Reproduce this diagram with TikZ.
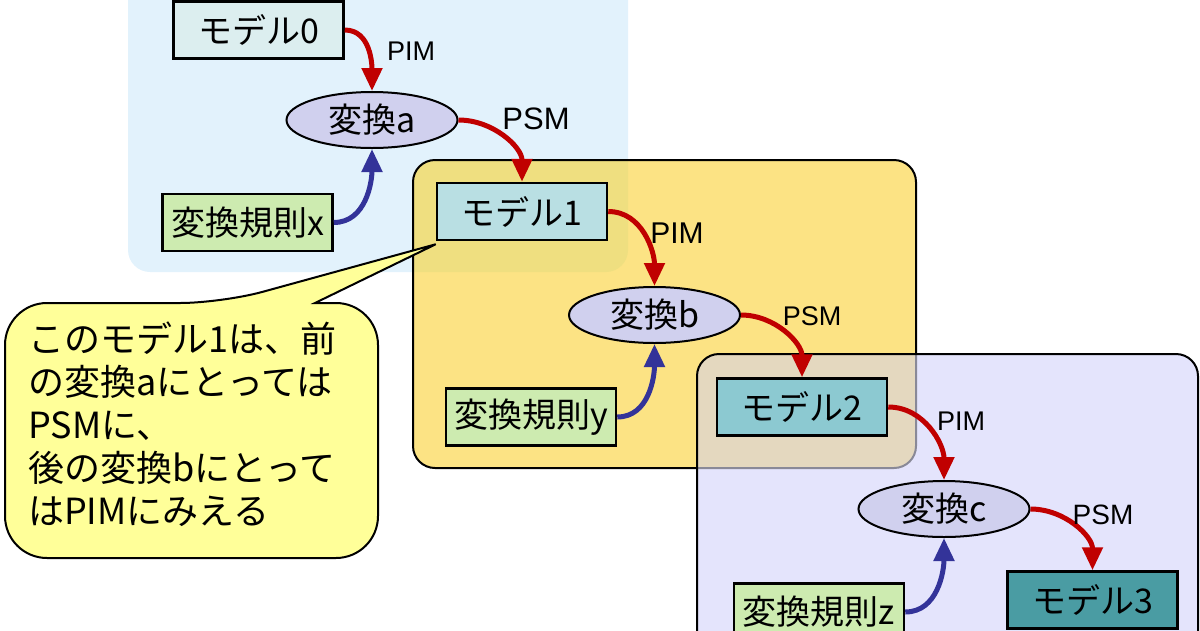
\documentclass[tikz,border=0pt]{standalone}
\usepackage{fontspec}
\setmainfont{Noto Sans CJK JP}
\newfontfamily\latinfont{Liberation Sans}
\usetikzlibrary{shapes.geometric,arrows.meta}

\definecolor{panelblue}{HTML}{E2F2FC}
\definecolor{panelyellow}{HTML}{FCE384}
\definecolor{panelpurple}{HTML}{E4E4FC}
\definecolor{overlapby}{HTML}{EFDF80}
\definecolor{overlapyp}{HTML}{E4D8BF}
\definecolor{modelfilla}{HTML}{DCEEEF}
\definecolor{modelfillb}{HTML}{B9DFE3}
\definecolor{modelfillc}{HTML}{8CC9D1}
\definecolor{modelfilld}{HTML}{4A9CA3}
\definecolor{rulefill}{HTML}{CDEBB0}
\definecolor{transfill}{HTML}{D0D0EE}
\definecolor{flowred}{HTML}{C00000}
\definecolor{ruleblue}{HTML}{333399}
\definecolor{notefill}{HTML}{FFFF99}

\tikzset{
  model/.style={draw=black, line width=2.5pt, minimum width=170pt, minimum height=57pt,
    inner sep=0pt, font=\fontsize{34}{38}\selectfont},
  rulebox/.style={model, fill=rulefill},
  trans/.style={ellipse, draw=black, line width=2pt, fill=transfill, minimum width=171pt,
    minimum height=56pt, inner sep=0pt, font=\fontsize{34}{38}\selectfont},
  flow/.style={draw=flowred, line width=5pt, -{Triangle[length=23pt,width=20pt]}},
  feed/.style={draw=ruleblue, line width=5pt, -{Triangle[length=23pt,width=20pt]}},
  lbl/.style={font=\latinfont\fontsize{27}{30}\selectfont, inner sep=0pt},
  panel/.style={rounded corners=22pt}
}

\begin{document}
\begin{tikzpicture}[x=1pt,y=-1pt]
        \useasboundingbox (0,0) rectangle (1200,630);
        \clip (0,0) rectangle (1200,630);

        %Shape: Panel a
        \fill [panelblue, panel] (128,-40) rectangle (628,272);
        %Shape: Panel b
        \fill [panelyellow, panel] (413,160) rectangle (916,468);
        \begin{scope}
          \clip [panel] (413,160) rectangle (916,468);
          \fill [overlapby, panel] (128,-40) rectangle (628,272);
        \end{scope}
        \draw [line width=2pt, panel] (413,160) rectangle (916,468);
        %Shape: Panel c
        \fill [panelpurple, panel] (697,354) rectangle (1198,700);
        \begin{scope}
          \clip [panel] (697,354) rectangle (1198,700);
          \fill [overlapyp, panel] (413,160) rectangle (916,468);
          \draw [line width=2pt, color=black!40!panelpurple, panel] (413,160) rectangle (916,468);
        \end{scope}
        \draw [line width=2pt, panel] (697,354) rectangle (1198,700);

        % Nodes
        \node [model, fill=modelfilla] (m0) at (258.5,30) {モデル0};
        \node [trans] (ta) at (372,120) {変換a};
        \node [rulebox] (rx) at (247.5,222.5) {変換規則x};
        \node [model, fill=modelfillb] (m1) at (522,211.5) {モデル1};
        \node [trans] (tb) at (654.5,315) {変換b};
        \node [rulebox] (ry) at (531,417) {変換規則y};
        \node [model, fill=modelfillc] (m2) at (802,407) {モデル2};
        \node [trans] (tc) at (944,509) {変換c};
        \node [rulebox] (rz) at (819,612) {変換規則z};
        \node [model, fill=modelfilld] (m3) at (1092.5,600) {モデル3};

        % Connectors
        \draw [flow] (m0.east) to [out=0, in=90] (ta.north);
        \draw [flow] (ta.east) to [out=0, in=90] (m1.north);
        \draw [feed] (rx.east) to [out=0, in=-90] (ta.south);
        \draw [flow] (m1.east) to [out=0, in=90] (tb.north);
        \draw [flow] (tb.east) to [out=0, in=90] (m2.north);
        \draw [feed] (ry.east) to [out=0, in=-90] (tb.south);
        \draw [flow] (m2.east) to [out=0, in=90] (tc.north);
        \draw [flow] (tc.east) to [out=0, in=90] (m3.north);
        \draw [feed] (rz.east) to [out=0, in=-90] (tc.south);

        % Text Node
        \node [lbl] (pima) at (411,51) {PIM};
        \node [lbl, font=\latinfont\fontsize{31}{34}\selectfont] (psma) at (536,119) {PSM};
        \node [lbl, font=\latinfont\fontsize{30}{34}\selectfont] (pimb) at (677,233) {PIM};
        \node [lbl] (psmb) at (812,316) {PSM};
        \node [lbl] (pimc) at (961,421) {PIM};
        \node [lbl, font=\latinfont\fontsize{28}{30}\selectfont] (psmc) at (1103,515) {PSM};

        %Shape: Callout
        \coordinate (tip) at ([yshift=-3pt]m1.south west);
        \draw [line width=2pt, fill=notefill] (315,303) [rounded corners=42pt] -- (378,303) -- (378,558) -- (5,558) -- (5,303) -- (222,303) [sharp corners] -- (tip) -- cycle;
        \node [anchor=north west, align=left, inner sep=0pt, font=\fontsize{36}{43}\selectfont] (note) at (28,322)
          {このモデル1は、前\\の変換aにとっては\\PSMに、\\後の変換bにとって\\はPIMにみえる};

\end{tikzpicture}
\end{document}
